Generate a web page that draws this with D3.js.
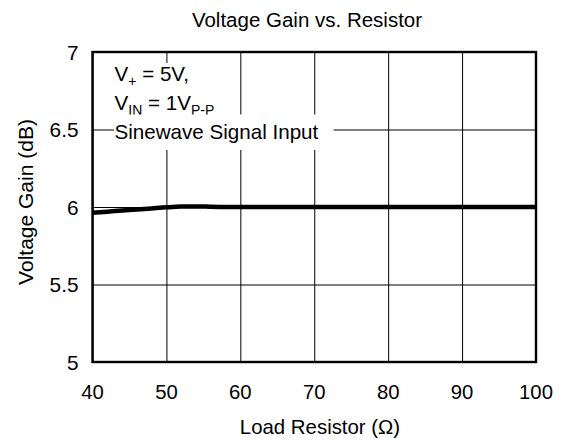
<!DOCTYPE html>
<html><head><meta charset="utf-8">
<script src="https://cdn.jsdelivr.net/npm/d3@7"></script>
<style>body{margin:0;background:#fff}text{font-family:Arial,"Liberation Sans",sans-serif;fill:#000}</style>
</head><body>
<svg id="c" width="561" height="441"></svg>
<script>
const title = "Voltage Gain vs. Resistor";
const xLabel = "Load Resistor (Ω)";
const yLabel = "Voltage Gain (dB)";
const xTicks = [40, 50, 60, 70, 80, 90, 100];
const yTicks = [5, 5.5, 6, 6.5, 7];
const yTickLabels = ["5", "5.5", "6", "6.5", "7"];
const resistance = [40, 42, 44, 46, 48, 50, 52, 54, 56, 60, 70, 80, 90, 100];
const gain = [5.963, 5.97, 5.977, 5.984, 5.991, 5.998, 6.003, 6.004, 6.002, 6.0, 6.0, 6.0, 6.0, 6.0];

const svg = d3.select("#c");
const L = 92.5, R = 536, T = 52, B = 362;
const x = d3.scaleLinear().domain([40, 100]).range([L, R]);
const y = d3.scaleLinear().domain([5, 7]).range([B, T]);

// grid
svg.append("g").attr("transform", `translate(0,${B})`)
  .call(d3.axisBottom(x).tickValues(xTicks).tickSize(-(B - T)).tickFormat(""))
  .call(g => { g.select(".domain").remove(); g.selectAll("line").attr("stroke", "#000").attr("stroke-width", 1); });
svg.append("g").attr("transform", `translate(${L},0)`)
  .call(d3.axisLeft(y).tickValues(yTicks).tickSize(-(R - L)).tickFormat(""))
  .call(g => { g.select(".domain").remove(); g.selectAll("line").attr("stroke", "#000").attr("stroke-width", 1); });

// tick labels
svg.append("g").selectAll("text").data(xTicks).join("text")
  .attr("x", d => x(d)).attr("y", B + 36.5).attr("text-anchor", "middle")
  .attr("font-size", 20.3).text(d => d);
svg.append("g").selectAll("text").data(yTicks).join("text")
  .attr("x", L - 14).attr("y", d => y(d) + 7.5).attr("text-anchor", "end")
  .attr("font-size", 20.8).text((d, i) => yTickLabels[i]);

// annotation
const ann = svg.append("g");
const lines = [
  [["V", 0], ["+", 1], [" = 5V,", 0]],
  [["V", 0], ["IN", 1], [" = 1V", 0], ["P-P", 1]],
  [["Sinewave Signal Input", 0]]
];
const baselines = [81, 110, 138.5];
const padR = [3, 3, 15];
lines.forEach((parts, i) => {
  const bg = ann.append("rect").attr("fill", "#fff");
  const t = ann.append("text").attr("x", 114.5).attr("y", baselines[i]).attr("font-size", 20.6);
  parts.forEach(([s, sub], j) => {
    const ts = t.append("tspan").text(s);
    const prevSub = j > 0 && parts[j - 1][1];
    if (sub) ts.attr("font-size", 14).attr("dy", prevSub ? 0 : 4.5);
    else ts.attr("dy", prevSub ? -4.5 : 0);
  });
  const bb = t.node().getBBox();
  const top = Math.max(baselines[i] - 24, 63);
  bg.attr("x", 114).attr("y", top)
    .attr("width", bb.x + bb.width - 114 + padR[i]).attr("height", baselines[i] + 11.5 - top);
});

// frame
svg.append("rect").attr("x", L).attr("y", T).attr("width", R - L).attr("height", B - T)
  .attr("fill", "none").attr("stroke", "#000").attr("stroke-width", 2.4);

// curve
svg.append("path").datum(resistance.map((r, i) => [r, gain[i]]))
  .attr("d", d3.line().x(d => x(d[0])).y(d => y(d[1])).curve(d3.curveMonotoneX))
  .attr("fill", "none").attr("stroke", "#000").attr("stroke-width", 4.5);

// titles
svg.append("text").attr("x", 307).attr("y", 26.5).attr("text-anchor", "middle").attr("font-size", 20.5).text(title);
svg.append("text").attr("x", 320).attr("y", 434).attr("text-anchor", "middle").attr("font-size", 20.4).text(xLabel);
svg.append("text").attr("transform", `translate(33,202) rotate(-90)`).attr("text-anchor", "middle").attr("font-size", 21).text(yLabel);
</script>
</body></html>
